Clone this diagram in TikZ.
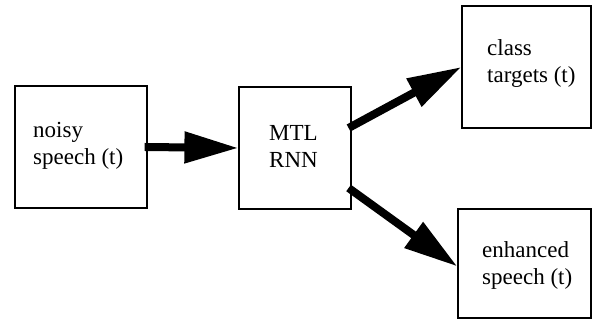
\documentclass[tikz,border=0pt]{standalone}
\usepackage{fontspec}
\setmainfont{Liberation Serif}
\usetikzlibrary{arrows.meta}
\begin{document}
\begin{tikzpicture}[x=1pt,y=1pt,
  box/.style={draw=black,line width=1.2pt,minimum width=#1,inner sep=0pt},
  lbl/.style={anchor=west,align=left,inner sep=0pt,font=\fontsize{23}{27}\selectfont},
  bigarrow/.style={line width=8pt,-{Triangle[length=54pt,width=30pt]}}]
\useasboundingbox (0,0) rectangle (592,320);
\node[box=132pt,minimum height=122pt] (noisy) at (81,173) {};
\node[box=112pt,minimum height=122pt] (mtl) at (295,172) {};
\node[box=129pt,minimum height=122pt] (class) at (526.5,253) {};
\node[box=133pt,minimum height=109pt] (enh) at (524.5,56.5) {};
\node[lbl] (tnoisy) at (33,174) {noisy\\speech (t)};
\node[lbl] (tmtl) at (269,173.5) {MTL\\RNN};
\node[lbl] (tclass) at (487,256.5) {class\\targets (t)};
\node[lbl] (tenh) at (482,55) {enhanced\\speech (t)};
\draw[bigarrow] ([xshift=-3pt]noisy.east) -- (mtl.west);
\draw[bigarrow] ([xshift=-3pt,yshift=20pt]mtl.east) -- (class.west);
\draw[bigarrow] ([xshift=-3pt,yshift=-40pt]mtl.east) -- ([yshift=-3pt]enh.west);
\end{tikzpicture}
\end{document}
